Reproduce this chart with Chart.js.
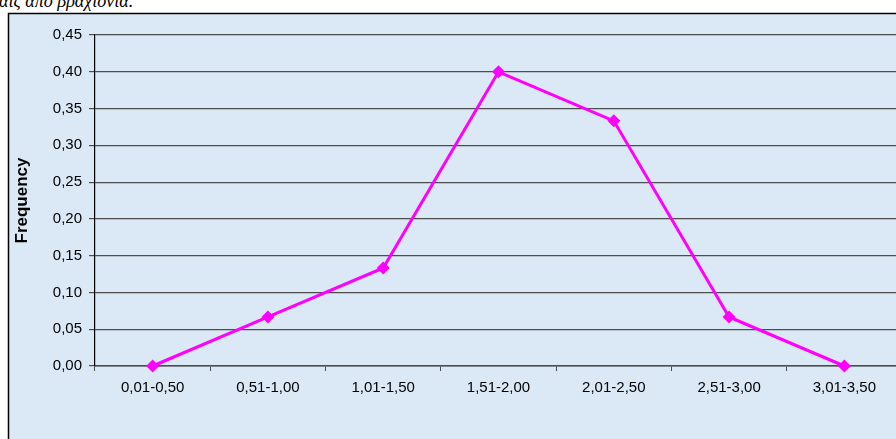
<!DOCTYPE html>
<html>
<head>
<meta charset="utf-8">
<script src="https://cdn.jsdelivr.net/npm/chart.js@4/dist/chart.umd.min.js"></script>
<style>
  html, body { margin: 0; padding: 0; background: #ffffff; overflow: hidden; width: 896px; height: 439px; }
  #caption {
    position: absolute; left: -6px; top: -8px;
    font: italic 18px "Liberation Serif", "DejaVu Serif", serif;
    line-height: 18px; color: #000; white-space: nowrap;
  }
  #wrap { position: absolute; left: 0; top: 0; width: 920px; height: 460px; }
</style>
</head>
<body>
<div id="caption">ιαις από βραχιόνια.</div>
<div id="wrap"><canvas id="chart" width="920" height="460"></canvas></div>
<script>
// Length classes of the measured pieces and their relative frequency
const lengthClasses = ['0,01-0,50', '0,51-1,00', '1,01-1,50', '1,51-2,00', '2,01-2,50', '2,51-3,00', '3,01-3,50'];
const frequency = [0.0, 0.0667, 0.1333, 0.40, 0.3333, 0.0667, 0.0];
const yTickMax = 0.45;
const yTickStep = 0.05;

// Light blue panel with a thin black frame behind the plot
const framePanel = {
  id: 'framePanel',
  beforeDraw(chart) {
    const ctx = chart.ctx;
    ctx.save();
    ctx.fillStyle = '#dbe8f5';
    ctx.fillRect(8, 13, chart.width, chart.height);
    ctx.strokeStyle = '#000000';
    ctx.lineWidth = 1.5;
    ctx.strokeRect(8.5, 13.5, chart.width + 10, chart.height + 10);
    ctx.restore();
  }
};

const fmt = v => v.toFixed(2).replace('.', ',');
const sans = 'Liberation Sans, Arial, sans-serif';

new Chart(document.getElementById('chart'), {
  type: 'line',
  data: {
    labels: lengthClasses,
    datasets: [{
      data: frequency,
      borderColor: '#ff00ff',
      backgroundColor: '#ff00ff',
      borderWidth: 3,
      pointStyle: 'rectRot',
      pointRadius: 6.5,
      pointBorderWidth: 0,
      tension: 0,
      clip: false
    }]
  },
  options: {
    responsive: false,
    animation: false,
    devicePixelRatio: 1,
    layout: { padding: { left: 0, top: 35, right: 18, bottom: 0 } },
    plugins: { legend: { display: false }, tooltip: { enabled: false } },
    scales: {
      x: {
        type: 'category',
        offset: true,
        afterFit(scale) { scale.height = 94; },
        grid: {
          offset: true,
          drawOnChartArea: false,
          drawTicks: true,
          tickLength: 5,
          color: '#4d4d4d',
          lineWidth: 1
        },
        border: { color: '#4d4d4d', width: 1.5 },
        ticks: {
          color: '#000000',
          font: { family: sans, size: 15 },
          padding: 8,
          maxRotation: 0,
          autoSkip: false
        },
        title: {
          display: true,
          text: 'Length (cm)',
          color: '#000000',
          font: { family: sans, size: 15, weight: 'bold' },
          padding: { top: 0, bottom: 0 }
        }
      },
      y: {
        min: 0,
        max: yTickMax,
        afterFit(scale) { scale.width = 95; },
        grid: {
          color: '#4d4d4d',
          lineWidth: 1.2,
          drawTicks: true,
          tickLength: 6
        },
        border: { color: '#000000', width: 1.2 },
        ticks: {
          stepSize: yTickStep,
          color: '#000000',
          font: { family: sans, size: 15 },
          padding: 7,
          callback: v => fmt(v)
        },
        title: {
          display: true,
          text: 'Frequency',
          color: '#000000',
          font: { family: sans, size: 17, weight: 'bold' },
          padding: { top: 12, bottom: 0 }
        }
      }
    }
  },
  plugins: [framePanel]
});
</script>
</body>
</html>
